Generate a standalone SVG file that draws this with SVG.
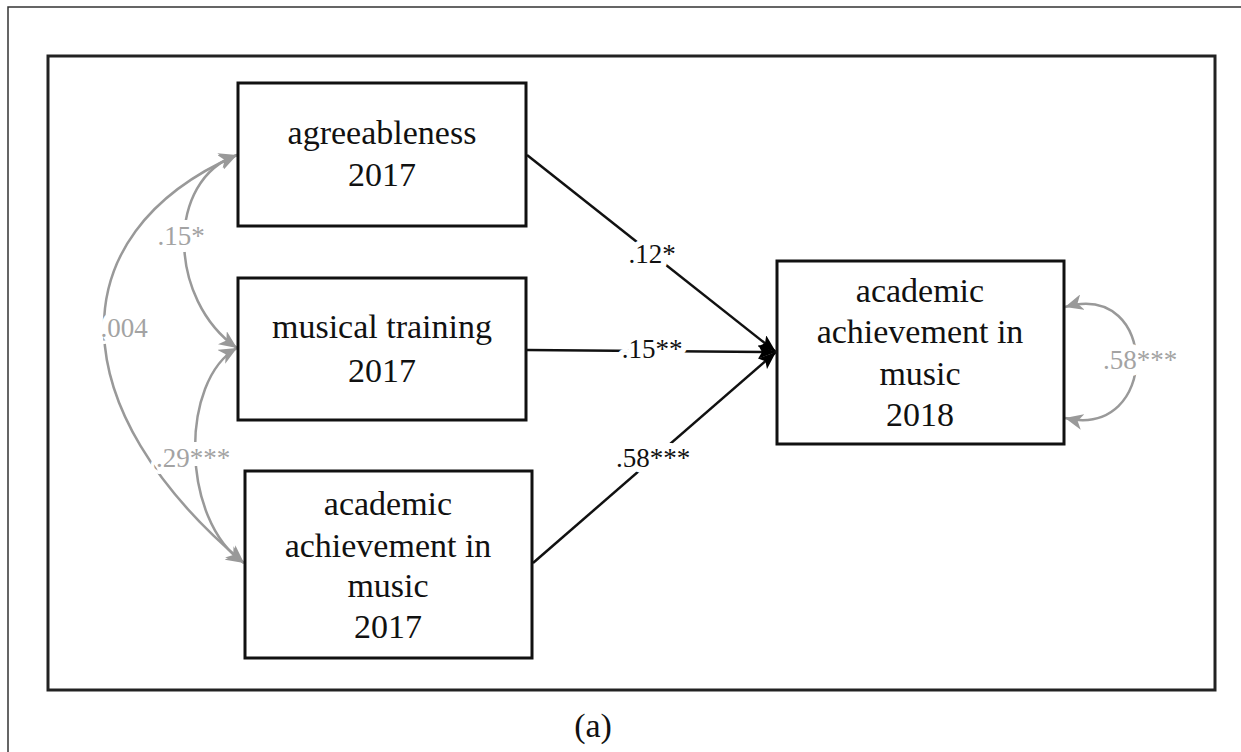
<svg xmlns="http://www.w3.org/2000/svg" width="1241" height="752" viewBox="0 0 1241 752">
<style>
.box{fill:#fff;stroke:#111;stroke-width:3}
.nt{font-family:'Liberation Serif','Times New Roman',serif;font-size:34px;fill:#111;text-anchor:middle}
.path{fill:none;stroke:#111;stroke-width:2.5}
.cov{fill:none;stroke:#999;stroke-width:2.5}
.el{font-family:'Liberation Serif','Times New Roman',serif;font-size:27px;fill:#111;text-anchor:middle;stroke:#fff;stroke-width:12px;paint-order:stroke;stroke-linejoin:round}
.gl{font-family:'Liberation Serif','Times New Roman',serif;font-size:27px;fill:#a3a3a3;text-anchor:middle;stroke:#fff;stroke-width:14px;paint-order:stroke;stroke-linejoin:round}
</style>
<defs>
<marker id="ab" markerUnits="userSpaceOnUse" markerWidth="20" markerHeight="14" refX="18" refY="7" orient="auto">
<path d="M0,0 L18,7 L0,14 L4,7 z" fill="#000"/>
</marker>
<marker id="ag" markerUnits="userSpaceOnUse" markerWidth="20" markerHeight="16" refX="18" refY="8" orient="auto-start-reverse">
<path d="M0,0 L18,8 L0,16 L5,8 z" fill="#999"/>
</marker>
</defs>
<rect width="1241" height="752" fill="#fff"/>
<path d="M8,752 L8,7 L1241,7" fill="none" stroke="#333" stroke-width="1.5"/>
<rect x="48" y="56" width="1167" height="634" fill="none" stroke="#222" stroke-width="3"/>

<g id="connectors">
<path class="path" d="M527,155 L776,352" marker-end="url(#ab)"/>
<path class="path" d="M527,350 L776,352" marker-end="url(#ab)"/>
<path class="path" d="M533,563 L776,352" marker-end="url(#ab)"/>
<path class="cov" d="M237,155 C165,180 168,300 237,348" marker-start="url(#ag)" marker-end="url(#ag)"/>
<path class="cov" d="M237,155 C55,235 62,410 244,563" marker-start="url(#ag)" marker-end="url(#ag)"/>
<path class="cov" d="M237,348 C180,380 180,520 244,563" marker-start="url(#ag)" marker-end="url(#ag)"/>
<path class="cov" d="M1065,307 C1160,280 1160,440 1065,418" marker-start="url(#ag)" marker-end="url(#ag)"/>
<text class="el" x="652" y="263">.12*</text>
<text class="el" x="652" y="358">.15**</text>
<text class="el" x="653" y="467">.58***</text>
<text class="gl" x="181" y="245">.15*</text>
<text class="gl" x="124" y="337">.004</text>
<text class="gl" x="193" y="467">.29***</text>
<text class="gl" x="1140" y="369">.58***</text>
</g>

<g id="agreeableness">
<rect class="box" x="238" y="83" width="288" height="143"/>
<text class="nt" x="382" y="144">agreeableness</text>
<text class="nt" x="382" y="186">2017</text>
</g>
<g id="musical-training">
<rect class="box" x="238" y="278" width="288" height="142"/>
<text class="nt" x="382" y="338">musical training</text>
<text class="nt" x="382" y="382">2017</text>
</g>
<g id="achievement-2017">
<rect class="box" x="245" y="471" width="287" height="187"/>
<text class="nt" x="388" y="515">academic</text>
<text class="nt" x="388" y="557">achievement in</text>
<text class="nt" x="388" y="597">music</text>
<text class="nt" x="388" y="638">2017</text>
</g>
<g id="achievement-2018">
<rect class="box" x="777" y="261" width="287" height="183"/>
<text class="nt" x="920" y="302">academic</text>
<text class="nt" x="920" y="343">achievement in</text>
<text class="nt" x="920" y="385">music</text>
<text class="nt" x="920" y="426">2018</text>
</g>
<text class="nt" x="593" y="737" font-size="33">(a)</text>
</svg>
